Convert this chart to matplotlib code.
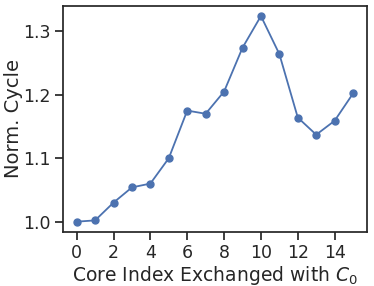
import matplotlib
matplotlib.use("Agg")
import matplotlib.pyplot as plt
import seaborn as sns

core_idx = list(range(16))
norm_cycle = [1.000, 1.002, 1.030, 1.054, 1.060, 1.100, 1.175, 1.170,
              1.205, 1.274, 1.324, 1.264, 1.164, 1.137, 1.159, 1.202]

sns.set_theme(style="ticks", font_scale=1.0)
plt.rcParams['font.family'] = ['DejaVu Sans']

fig = plt.figure(figsize=(3.74, 2.86), dpi=100)
ax = fig.add_axes([0.168, 0.189, 0.813, 0.791])
ax.plot(core_idx, norm_cycle, marker='o', color='#4C72B0', markersize=5, linewidth=1.3)
ax.set_xticks(range(0, 16, 2))
ax.set_yticks([1.0, 1.1, 1.2, 1.3])
ax.tick_params(labelsize=12.5, pad=3)
ax.set_xlabel(r"Core Index Exchanged with $C_0$", fontsize=13.5, labelpad=1)
ax.set_ylabel("Norm. Cycle", fontsize=14, labelpad=0)
fig.savefig("out.png", dpi=100)
